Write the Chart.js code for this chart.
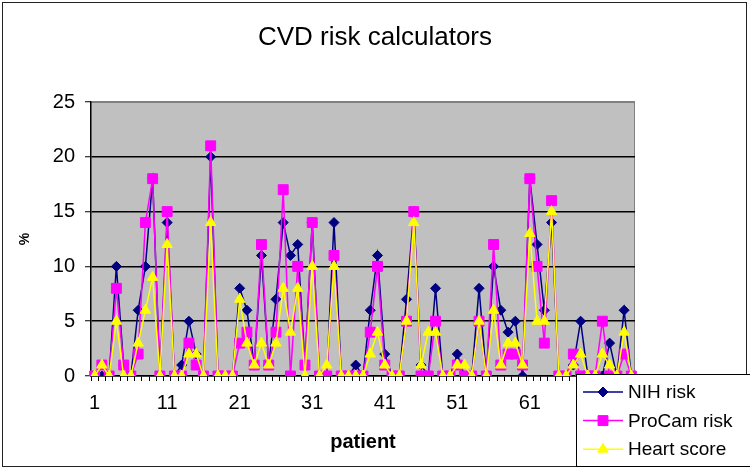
<!DOCTYPE html>
<html>
<head>
<meta charset="utf-8">
<script src="https://cdn.jsdelivr.net/npm/chart.js@4.4.1/dist/chart.umd.min.js"></script>
<style>
  html, body { margin: 0; padding: 0; background: #fff; }
  #wrap { width: 750px; height: 470px; }
</style>
</head>
<body>
<div id="wrap"><canvas id="c" width="750" height="470"></canvas></div>
<script>
// Patients on the category axis
const patients = [
  '1','2','3','4','5','6','7','8','9','10',
  '11','12','13','14','15','16','17','18','19','20',
  '21','22','23','24','25','26','27','28','29','30',
  '31','32','33','34','35','36','37','38','39','40',
  '41','42','43','44','45','46','47','48','49','50',
  '51','52','53','54','55','56','57','58','59','60',
  '61','62','63','64','65','66','67','68','69','70',
  '71','72','73','74','75'
];

// Category labels that are printed under the axis
const labelledPatients = ['1', '11', '21', '31', '41', '51', '61', '71'];

// Risk estimates in % per patient
const nihRisk = [
  0, 0, 0, 10, 1, 0, 6, 10, 18, 0,
  14, 0, 1, 5, 2, 0, 20, 0, 0, 0,
  8, 6, 1, 11, 1, 7, 14, 11, 12, 1,
  14, 0, 0, 14, 0, 0, 1, 0, 6, 11,
  2, 0, 0, 7, 15, 1, 0, 8, 0, 0,
  2, 0, 0, 8, 0, 10, 6, 4, 5, 0,
  18, 12, 6, 14, 0, 0, 1, 5, 0, 0,
  0, 3, 0, 6, 0
];
const procamRisk = [
  0, 1, 0, 8, 1, 0, 2, 14, 18, 0,
  15, 0, 0, 3, 1, 0, 21, 0, 0, 0,
  3, 4, 1, 12, 1, 4, 17, 0, 10, 1,
  14, 0, 0, 11, 0, 0, 0, 0, 4, 10,
  1, 0, 0, 5, 15, 0, 0, 5, 0, 0,
  1, 0, 0, 5, 0, 12, 1, 2, 2, 1,
  18, 10, 3, 16, 0, 0, 2, 0, 0, 0,
  5, 0, 0, 2, 0
];
const heartScore = [
  0, 1, 0, 5, 0, 0, 3, 6, 9, 0,
  12, 0, 0, 2, 2, 0, 14, 0, 0, 0,
  7, 3, 1, 3, 1, 3, 8, 4, 8, 0,
  10, 0, 1, 10, 0, 0, 0, 0, 2, 4,
  1, 0, 0, 5, 14, 1, 4, 4, 0, 0,
  1, 1, 0, 5, 0, 6, 1, 3, 3, 1,
  13, 5, 5, 15, 0, 0, 1, 2, 0, 0,
  2, 1, 0, 4, 0
];

const yMin = 0, yMax = 25, yStep = 5;

const FONT = "'Liberation Sans', Arial, sans-serif";
Chart.defaults.font.family = FONT;
Chart.defaults.color = '#000';

// Page frame, grey plotting area and its border
const framePlugin = {
  id: 'frame',
  beforeDraw(chart) {
    const { ctx, chartArea: a } = chart;
    ctx.save();
    ctx.fillStyle = '#fff';
    ctx.fillRect(0, 0, chart.width, chart.height);
    ctx.strokeStyle = '#222';
    ctx.lineWidth = 1;
    ctx.strokeRect(2.5, 2.5, 744, 464);
    ctx.fillStyle = '#c0c0c0';
    ctx.fillRect(a.left, a.top, a.right - a.left, a.bottom - a.top);
    ctx.strokeStyle = '#808080';
    ctx.beginPath();
    ctx.moveTo(a.left, a.top + 0.5);
    ctx.lineTo(a.right - 0.5, a.top + 0.5);
    ctx.lineTo(a.right - 0.5, a.bottom);
    ctx.stroke();
    ctx.restore();
  }
};

function marker(ctx, style, r, x, y) {
  ctx.beginPath();
  if (style === 'rectRot') {
    ctx.moveTo(x - r, y); ctx.lineTo(x, y - r); ctx.lineTo(x + r, y); ctx.lineTo(x, y + r);
  } else if (style === 'rect') {
    const s = Math.SQRT1_2 * r;
    ctx.rect(x - s, y - s, 2 * s, 2 * s);
  } else {
    const a = 2 * Math.PI / 3;
    ctx.moveTo(x, y - r);
    ctx.lineTo(x + Math.sin(a) * r, y - Math.cos(a) * r);
    ctx.lineTo(x + Math.sin(2 * a) * r, y - Math.cos(2 * a) * r);
  }
  ctx.closePath();
  ctx.fill();
  ctx.stroke();
}

// Boxed key in the lower right corner
const keyPlugin = {
  id: 'keyBox',
  afterDraw(chart) {
    const { ctx } = chart;
    ctx.save();
    ctx.fillStyle = '#fff';
    ctx.strokeStyle = '#000';
    ctx.lineWidth = 1;
    ctx.fillRect(576.5, 374.5, 190, 92);
    ctx.strokeRect(576.5, 374.5, 190, 92);
    chart.data.datasets.forEach((ds, i) => {
      const y = 392 + i * 28.6;
      ctx.strokeStyle = ds.borderColor;
      ctx.lineWidth = ds.borderWidth;
      ctx.beginPath();
      ctx.moveTo(583, y);
      ctx.lineTo(623, y);
      ctx.stroke();
      ctx.fillStyle = ds.pointBackgroundColor;
      ctx.strokeStyle = ds.pointBorderColor;
      ctx.lineWidth = 1;
      marker(ctx, ds.pointStyle, ds.pointRadius, 603, y);
      ctx.fillStyle = '#000';
      ctx.font = '19px ' + FONT;
      ctx.textBaseline = 'middle';
      ctx.textAlign = 'left';
      ctx.fillText(ds.label, 628, y + 1);
    });
    ctx.restore();
  }
};

new Chart(document.getElementById('c'), {
  type: 'line',
  data: {
    labels: patients,
    datasets: [
      {
        label: 'NIH risk', data: nihRisk, order: 3,
        borderColor: '#000080', borderWidth: 1.5,
        pointStyle: 'rectRot', pointRadius: 5,
        pointBackgroundColor: '#000080', pointBorderColor: '#000080', pointBorderWidth: 1
      },
      {
        label: 'ProCam risk', data: procamRisk, order: 2,
        borderColor: '#ff00ff', borderWidth: 1.5,
        pointStyle: 'rect', pointRadius: 7,
        pointBackgroundColor: '#ff00ff', pointBorderColor: '#ff00ff', pointBorderWidth: 1
      },
      {
        label: 'Heart score', data: heartScore, order: 1,
        borderColor: '#ffff00', borderWidth: 1.5,
        pointStyle: 'triangle', pointRadius: 6,
        pointBackgroundColor: '#ffff00', pointBorderColor: '#ffff00', pointBorderWidth: 1
      }
    ]
  },
  options: {
    responsive: false,
    animation: false,
    devicePixelRatio: 1,
    layout: { padding: { left: 0, right: 0, top: 0, bottom: 0 } },
    plugins: {
      legend: { display: false },
      tooltip: { enabled: false },
      title: {
        display: true,
        text: 'CVD risk calculators',
        color: '#000',
        font: { size: 26, weight: 'normal', lineHeight: 1.2 },
        padding: { top: 22.4, bottom: 48.4 }
      }
    },
    scales: {
      x: {
        type: 'category',
        offset: true,
        grid: {
          offset: true, drawOnChartArea: false, drawTicks: true,
          tickLength: 5, color: '#000', tickColor: '#000', tickWidth: 1
        },
        border: { display: true, color: '#000', width: 1.5 },
        ticks: {
          autoSkip: false, maxRotation: 0, minRotation: 0,
          padding: 10, color: '#000',
          font: { size: 20 },
          callback(value) {
            const lab = this.getLabelForValue(value);
            return labelledPatients.includes(lab) ? lab : '';
          }
        },
        title: {
          display: true, text: 'patient', color: '#000',
          font: { size: 20, weight: 'bold', lineHeight: 1.2 },
          padding: { top: 0, bottom: 16 }
        },
        afterFit(scale) { scale.height = 94; }
      },
      y: {
        min: yMin, max: yMax,
        grid: {
          drawTicks: true, tickLength: 6, tickColor: '#000', tickWidth: 1,
          lineWidth: 1.5,
          color: (c) => (c.tick && c.tick.value === yMax ? '#808080' : '#000')
        },
        border: { display: true, color: '#000', width: 1.5 },
        ticks: { stepSize: yStep, padding: 10, color: '#000', font: { size: 20 } },
        title: {
          display: true, text: '%', color: '#000',
          font: { size: 14, weight: 'bold', lineHeight: 1.2 },
          padding: { top: 16.6, bottom: 0 }
        },
        afterFit(scale) { scale.width = 91; }
      },
      spacer: {
        position: 'right',
        display: true,
        grid: { display: false },
        border: { display: false },
        ticks: { display: false },
        afterFit(scale) { scale.width = 115; }
      }
    }
  },
  plugins: [framePlugin, keyPlugin]
});
</script>
</body>
</html>
